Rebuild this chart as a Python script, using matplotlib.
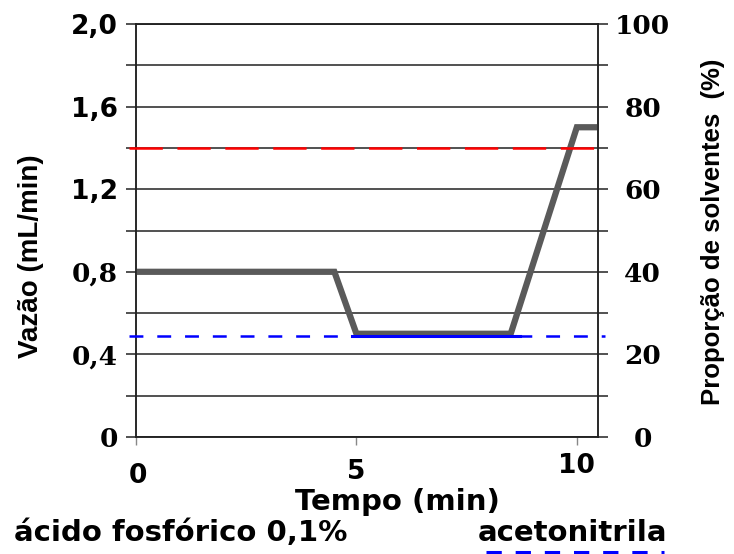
import matplotlib
matplotlib.use('Agg')
import matplotlib.pyplot as plt
from matplotlib.lines import Line2D
from matplotlib.transforms import ScaledTranslation

plt.rcParams['lines.scale_dashes'] = False
plt.rcParams['font.family'] = 'DejaVu Sans'
plt.rcParams['font.weight'] = 'bold'

# flow program (mL/min) over time (min)
tempo = [0, 4.5, 5, 8.5, 10, 10.4]
vazao = [0.8, 0.8, 0.5, 0.5, 1.5, 1.5]

# solvent proportions (%)
acido_pct = 70
acetonitrila_pct = 24.5
acetonitrila_trecho = [4.9, 8.7]

vazao_ticks = [0, 0.2, 0.4, 0.6, 0.8, 1.0, 1.2, 1.4, 1.6, 1.8, 2.0]
vazao_labels = ['0', '', '0,4', '', '0,8', '', '1,2', '', '1,6', '', '2,0']
prop_ticks = [0, 10, 20, 30, 40, 50, 60, 70, 80, 90, 100]
prop_labels = ['0', '', '20', '', '40', '', '60', '', '80', '', '100']
tempo_ticks = [0, 5, 10]
tempo_labels = ['0', '5', '10']

W, H = 734, 554
fig = plt.figure(figsize=(W / 100, H / 100), dpi=100)
ax = fig.add_axes([136 / W, 117 / H, 462 / W, 413 / H])
ax2 = ax.twinx()

ax.set_xlim(0, 10.48)
ax.set_ylim(0, 2.0)
ax2.set_ylim(0, 100)

ax.yaxis.grid(True, color='#222222', lw=1.1)
ax.set_axisbelow(True)

# solvent reference lines
ax2.plot([-0.15, 10.65], [acido_pct, acido_pct], color='#ff0000', lw=1.8,
         dashes=(24, 10.5), clip_on=False, zorder=3)
ax2.plot([-0.15, 10.65], [acetonitrila_pct, acetonitrila_pct], color='#0000ff', lw=1.8,
         dashes=(10, 10), clip_on=False, zorder=3)
ax2.plot(acetonitrila_trecho, [acetonitrila_pct, acetonitrila_pct], color='#0000ff', lw=2.2, zorder=2)

ax.plot(tempo, vazao, color='#5a5a5a', lw=4.5, solid_joinstyle='miter', zorder=3)

for a in (ax, ax2):
    for s in a.spines.values():
        s.set_color('#222222')
        s.set_linewidth(1.1)

ax.set_xticks(tempo_ticks)
ax.set_xticklabels(tempo_labels)
ax.tick_params(axis='x', direction='out', length=6, width=1, color='#888888', pad=10, labelsize=19)

ax.set_yticks(vazao_ticks)
ax.set_yticklabels(vazao_labels)
ax.tick_params(axis='y', direction='out', length=7.2, width=1.1, color='#222222', pad=6, labelsize=19)
for lab in ax.get_yticklabels():
    if lab.get_text() in ('0', '0,4', '0,8'):
        lab.set_fontfamily('DejaVu Serif')

ax2.set_yticks(prop_ticks)
ax2.set_yticklabels(prop_labels)
ax2.tick_params(axis='y', direction='out', length=7.2, width=1.1, color='#222222', pad=25, labelsize=19)
for lab in ax2.get_yticklabels():
    lab.set_fontfamily('DejaVu Serif')
    lab.set_horizontalalignment('center')

# small vertical nudges of the time labels
for lab, dy in zip(ax.get_xticklabels(), [-4, 0, 6]):
    lab.set_transform(lab.get_transform() + ScaledTranslation(2 / 100 if lab.get_text() == '0' else 0, dy / 100, fig.dpi_scale_trans))

fig.text(397 / W, 1 - 502 / H, 'Tempo (min)', ha='center', va='center', size=21)
fig.text(31 / W, 1 - 256 / H, 'Vazão (mL/min)', rotation=90, ha='center', va='center',
         family='Liberation Sans', size=20)
fig.text(713 / W, 1 - 232 / H, 'Proporção de solventes  (%)', rotation=90, ha='center', va='center',
         family='Liberation Sans', size=18.5)

fig.text(14 / W, 1 - 533 / H, 'ácido fosfórico 0,1%', ha='left', va='center', size=21)
fig.text(478 / W, 1 - 533 / H, 'acetonitrila', ha='left', va='center', size=21)
fig.add_artist(Line2D([486 / W, 664 / W], [1 - 552 / H, 1 - 552 / H], transform=fig.transFigure,
                      color='#0000ff', lw=2.2, dashes=(11, 10)))

fig.savefig('out.png', dpi=100)
